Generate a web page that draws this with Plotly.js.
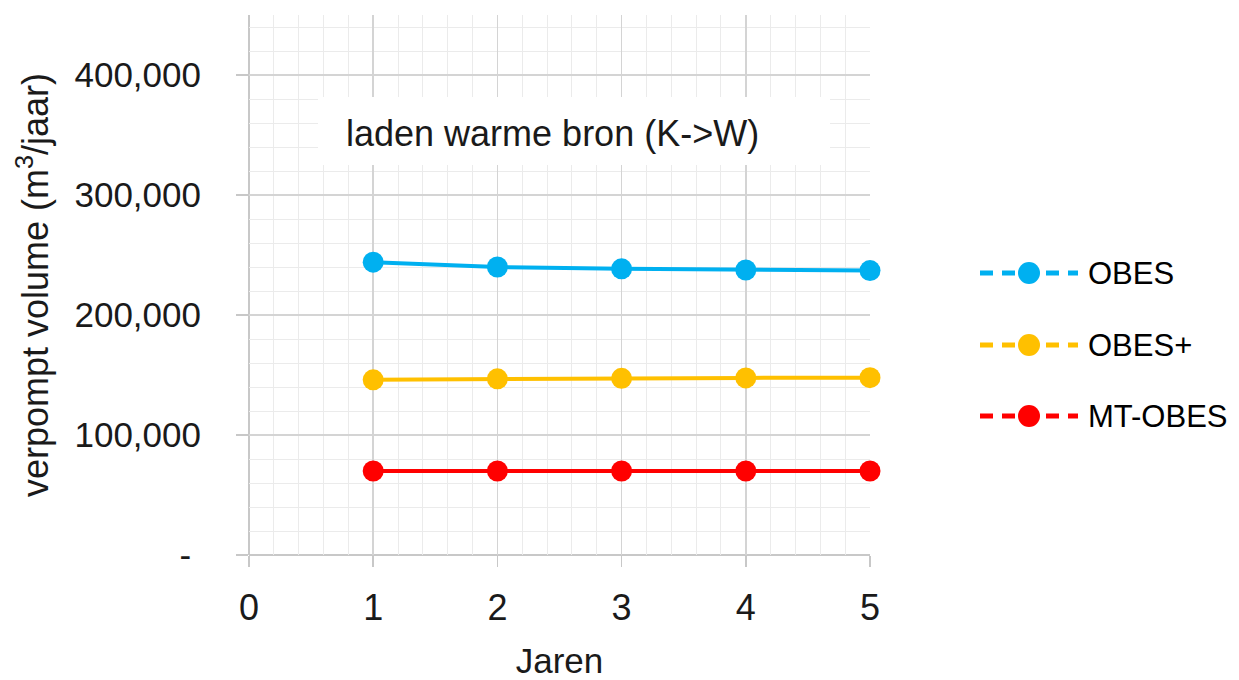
<!DOCTYPE html>
<html>
<head>
<meta charset="utf-8">
<script src="https://cdn.plot.ly/plotly-3.0.1.min.js"></script>
<style>html,body{margin:0;padding:0;background:#fff;}#chart{width:1239px;height:680px;}</style>
</head>
<body>
<div id="chart"></div>
<script>
// ---- data ----
const years = [1, 2, 3, 4, 5];
const obes = [244000, 240000, 238500, 237500, 237000];
const obesPlus = [146000, 146800, 147200, 147600, 147800];
const mtObes = [70000, 70000, 70000, 70000, 70000];
const seriesNames = ['OBES', 'OBES+', 'MT-OBES'];
const seriesColors = ['#00B0F0', '#FFC000', '#FF0000'];
const yTickVals = [0, 100000, 200000, 300000, 400000];
const yTickText = ['-\u00a0', '100,000', '200,000', '300,000', '400,000'];
const xTickVals = [0, 1, 2, 3, 4, 5];
const chartTitle = 'laden warme bron (K-&gt;W)';
const xTitle = 'Jaren';
const yTitle = 'verpompt volume (m<sup>3</sup>/jaar)';

const seriesValues = [obes, obesPlus, mtObes];

const traces = seriesValues.map((vals, i) => ({
  type: 'scatter', mode: 'lines+markers',
  x: years, y: vals, name: seriesNames[i],
  line: {color: seriesColors[i], width: 4},
  marker: {color: seriesColors[i], size: 21},
  cliponaxis: false, showlegend: false
}));

// custom legend (dashed line + marker + label), built from series arrays
const W = 1239, H = 680;
const L = 249, R = 870, T = 15, B = 555;
const px = v => (v - L) / (R - L);
const py = v => (B - v) / (B - T);
const legendRows = [273, 345, 416];
const shapes = [];
const annotations = [];
// axis border lines at x=0 and y=0
shapes.push(
  {type: 'line', xref: 'paper', yref: 'paper', layer: 'below', x0: 0, x1: 0, y0: 0, y1: 1, line: {color: '#c8c8c8', width: 2}},
  {type: 'line', xref: 'paper', yref: 'paper', layer: 'below', x0: 0, x1: 1, y0: 0, y1: 0, line: {color: '#c8c8c8', width: 2}}
);
// title box
shapes.push({type: 'rect', xref: 'paper', yref: 'paper', layer: 'above',
  x0: px(318), x1: px(830), y0: py(165), y1: py(97),
  fillcolor: '#ffffff', line: {width: 0}});
annotations.push({xref: 'paper', yref: 'paper', x: px(552), y: py(133),
  xanchor: 'center', yanchor: 'middle', showarrow: false, text: chartTitle,
  font: {family: 'Liberation Sans, Arial, sans-serif', size: 36, color: '#1a1a1a'}});

seriesNames.forEach((name, i) => {
  const yc = legendRows[i];
  shapes.push({type: 'line', xref: 'paper', yref: 'paper', layer: 'above',
    x0: px(980), x1: px(1078), y0: py(yc), y1: py(yc),
    line: {color: seriesColors[i], width: 5, dash: '13px,9px'}});
  shapes.push({type: 'circle', xref: 'paper', yref: 'paper', layer: 'above',
    x0: px(1018), x1: px(1040), y0: py(yc + 11), y1: py(yc - 11),
    fillcolor: seriesColors[i], line: {width: 0}});
  annotations.push({xref: 'paper', yref: 'paper', x: px(1086), y: py(yc),
    xanchor: 'left', yanchor: 'middle', showarrow: false, text: name,
    font: {family: 'Liberation Sans, Arial, sans-serif', size: 31, color: '#000'}});
});

const layout = {
  width: W, height: H,
  margin: {l: L, r: W - R, t: T, b: H - B, pad: 0},
  paper_bgcolor: '#fff', plot_bgcolor: '#fff',
  showlegend: false,
  xaxis: {
    range: [0, 5], tickmode: 'array', tickvals: xTickVals,
    showgrid: true, gridcolor: '#d4d4d4', gridwidth: 1.5,
    zeroline: false, showline: false,
    ticks: 'outside', ticklen: 11, tickwidth: 1.5, tickcolor: '#c8c8c8',
    ticklabelstandoff: 10,
    tickfont: {family: 'Liberation Sans, Arial, sans-serif', size: 36, color: '#1a1a1a'},
    minor: {tickmode: 'linear', tick0: 0, dtick: 0.2, showgrid: true, gridcolor: '#ebebeb', gridwidth: 1},
    title: {text: xTitle, standoff: 26,
      font: {family: 'Liberation Sans, Arial, sans-serif', size: 35, color: '#1a1a1a'}},
    automargin: false, fixedrange: true
  },
  yaxis: {
    range: [0, 450000], tickmode: 'array', tickvals: yTickVals, ticktext: yTickText,
    showgrid: true, gridcolor: '#d4d4d4', gridwidth: 1.5,
    zeroline: false, showline: false,
    ticks: 'outside', ticklen: 12, tickwidth: 1.5, tickcolor: '#c8c8c8',
    ticklabelstandoff: 28,
    tickfont: {family: 'Liberation Sans, Arial, sans-serif', size: 35, color: '#1a1a1a'},
    minor: {tickmode: 'linear', tick0: 0, dtick: 20000, showgrid: true, gridcolor: '#ebebeb', gridwidth: 1},
    title: {text: yTitle, standoff: 14,
      font: {family: 'Liberation Sans, Arial, sans-serif', size: 36, color: '#1a1a1a'}},
    automargin: false, fixedrange: true
  },
  shapes: shapes,
  annotations: annotations
};

Plotly.newPlot('chart', traces, layout, {staticPlot: true, displayModeBar: false});
</script>
</body>
</html>
